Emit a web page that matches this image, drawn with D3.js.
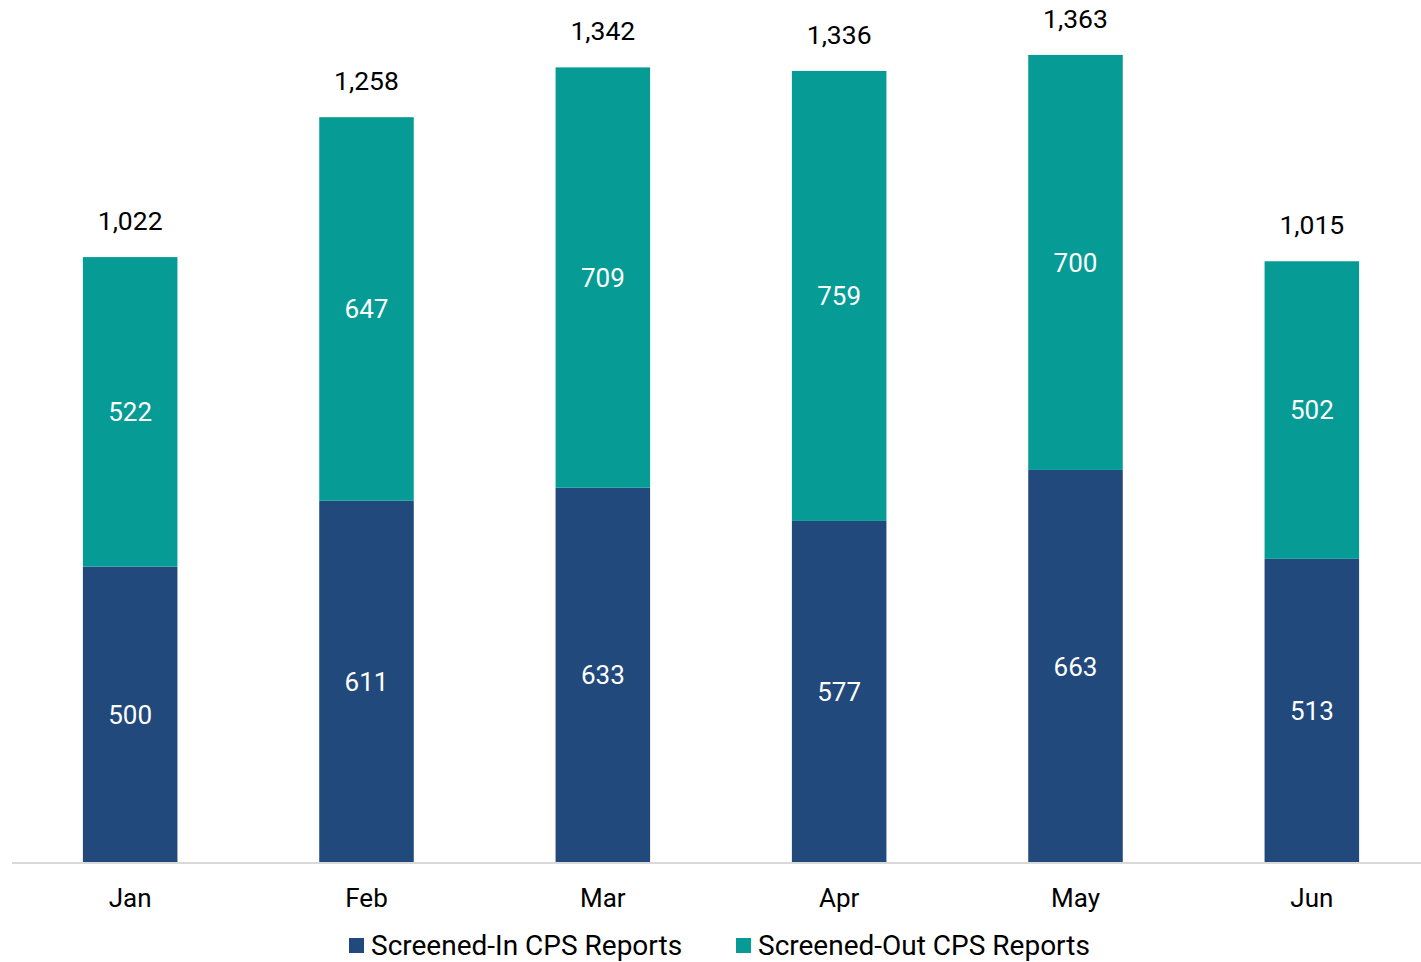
<!DOCTYPE html>
<html>
<head>
    <meta charset="utf-8">
    <title>CPS Reports</title>
    <script src="https://d3js.org/d3.v7.min.js"></script>
    <style>
        body { margin: 0; background: #ffffff; }
        text { font-family: Roboto, "Open Sans", sans-serif; }
    </style>
</head>
<body>
    <svg width="1421" height="962"></svg>
    <script>
        // data
        const months = ["Jan", "Feb", "Mar", "Apr", "May", "Jun"];
        const screenedIn = [500, 611, 633, 577, 663, 513];
        const screenedOut = [522, 647, 709, 759, 700, 502];
        const totals = [1022, 1258, 1342, 1336, 1363, 1015];
        const seriesNames = ["Screened-In CPS Reports", "Screened-Out CPS Reports"];
        const colors = ["#21497b", "#069c95"];

        const svg = d3.select("svg");
        const fmt = d3.format(",");

        const x = d3.scaleBand()
            .domain(months)
            .range([12, 1430])
            .paddingInner(0.6)
            .paddingOuter(0.3);

        const y = d3.scaleLinear()
            .domain([0, 1400])
            .range([863, 33]);

        const rows = months.map((m, i) => ({ month: m, a: screenedIn[i], b: screenedOut[i], total: totals[i] }));
        const stacked = d3.stack().keys(["a", "b"])(rows);

        // bars
        const layers = svg.append("g").selectAll("g")
            .data(stacked)
            .join("g")
            .attr("fill", (d, i) => colors[i]);

        layers.selectAll("rect")
            .data(d => d)
            .join("rect")
            .attr("x", d => x(d.data.month))
            .attr("y", d => y(d[1]))
            .attr("width", x.bandwidth())
            .attr("height", d => y(d[0]) - y(d[1]));

        // segment labels
        layers.selectAll("text")
            .data(d => d)
            .join("text")
            .attr("x", d => x(d.data.month) + x.bandwidth() / 2)
            .attr("y", d => (y(d[0]) + y(d[1])) / 2)
            .attr("dy", "0.35em")
            .attr("text-anchor", "middle")
            .attr("fill", "#ffffff")
            .attr("font-size", 26)
            .text(d => fmt(d[1] - d[0]));

        // total labels
        svg.append("g").selectAll("text")
            .data(rows)
            .join("text")
            .attr("x", d => x(d.month) + x.bandwidth() / 2)
            .attr("y", d => y(d.total) - 27)
            .attr("text-anchor", "middle")
            .attr("fill", "#000000")
            .attr("font-size", 26.5)
            .text(d => fmt(d.total));

        // x axis
        const xAxis = svg.append("g")
            .attr("transform", "translate(0,863)")
            .call(d3.axisBottom(x).tickSize(0).tickPadding(26));
        xAxis.select(".domain").attr("stroke", "#d9d9d9").attr("stroke-width", 2)
            .attr("d", "M12,0H1421");
        xAxis.selectAll("text")
            .attr("font-size", 26)
            .attr("fill", "#000000")
            .style("font-family", "Roboto, sans-serif");

        // legend
        const legend = svg.append("g");
        const legendX = [349, 736];
        seriesNames.forEach((name, i) => {
            legend.append("rect")
                .attr("x", legendX[i])
                .attr("y", 938)
                .attr("width", 15)
                .attr("height", 15)
                .attr("fill", colors[i]);
            legend.append("text")
                .attr("x", legendX[i] + 22)
                .attr("y", 955)
                .attr("font-size", 28)
                .attr("fill", "#000000")
                .text(name);
        });
    </script>
</body>
</html>
